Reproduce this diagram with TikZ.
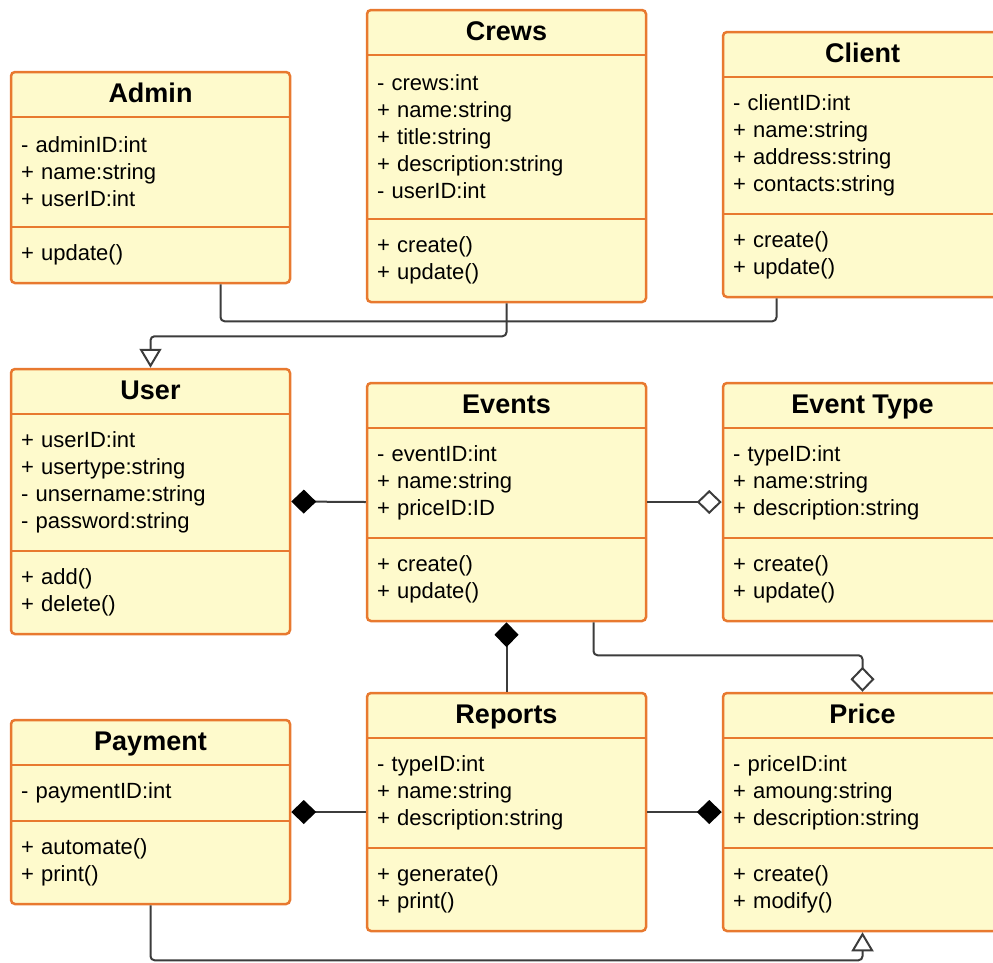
\documentclass[tikz,border=0pt]{standalone}
\usepackage{fontspec}
\setmainfont{Liberation Sans}
\usetikzlibrary{arrows.meta, positioning, fit, backgrounds}
\definecolor{UMLYellow}{HTML}{FEFACC}
\definecolor{UMLOrange}{HTML}{E8792F}
\definecolor{UMLLine}{HTML}{3C3C3C}
\tikzset{
    % Class name compartment
    classname/.style={
        rectangle,
        minimum width=279pt,
        minimum height=45pt,
        text height=20pt,
        text depth=5pt,
        inner sep=0pt,
        outer sep=0pt,
        align=center,
        font=\fontsize{27}{30}\selectfont\bfseries
    },
    % Attribute / operation compartment
    classpart/.style={
        rectangle,
        text width=259pt,
        inner xsep=10pt,
        inner ysep=0pt,
        outer sep=0pt,
        align=left,
        font=\fontsize{22}{27}\selectfont,
        append after command={(\tikzlastnode.north west) edge[divider] (\tikzlastnode.north east)}
    },
    % Line between compartments
    divider/.style={
        draw=UMLOrange,
        line width=2.5pt
    },
    % Whole class frame
    classframe/.style={
        rectangle,
        rounded corners=4pt,
        draw=UMLOrange,
        fill=UMLYellow,
        line width=2.5pt,
        inner sep=0pt
    },
    % Plain association line
    assoc/.style={
        draw=UMLLine,
        line width=2pt,
        rounded corners=4pt
    },
    % Generalisation
    inherit/.style={
        assoc,
        -{Triangle[open, fill=white, length=19pt, width=22pt]}
    },
    % Aggregation
    aggregate/.style={
        assoc,
        -{Diamond[open, fill=white, length=25pt, width=24pt]}
    },
    % Composition, diamond at end
    composeto/.style={
        assoc,
        -{Diamond[black, length=25pt, width=24pt]}
    },
    % Composition, diamond at start
    composefrom/.style={
        assoc,
        {Diamond[black, length=25pt, width=24pt]}-
    }
}

\begin{document}
\begin{tikzpicture}[x=1pt, y=-1pt, node distance=0pt]
    \useasboundingbox (0,0) rectangle (993,962);

    % Top row
    \node (admin-t) [classname, anchor=north west] at (11,72) {Admin};
    \node (admin-a) [classpart, below=of admin-t, minimum height=110pt] {- adminID:int\\+ name:string\\+ userID:int};
    \node (admin-m) [classpart, below=of admin-a, minimum height=56pt] {+ update()};

    \node (crews-t) [classname, anchor=north west] at (367,10) {Crews};
    \node (crews-a) [classpart, below=of crews-t, minimum height=164pt] {- crews:int\\+ name:string\\+ title:string\\+ description:string\\- userID:int};
    \node (crews-m) [classpart, below=of crews-a, minimum height=83pt] {+ create()\\+ update()};

    \node (client-t) [classname, anchor=north west] at (723,32) {Client};
    \node (client-a) [classpart, below=of client-t, minimum height=137pt] {- clientID:int\\+ name:string\\+ address:string\\+ contacts:string};
    \node (client-m) [classpart, below=of client-a, minimum height=83pt] {+ create()\\+ update()};

    % Middle row
    \node (user-t) [classname, anchor=north west] at (11,369) {User};
    \node (user-a) [classpart, below=of user-t, minimum height=137pt] {+ userID:int\\+ usertype:string\\- unsername:string\\- password:string};
    \node (user-m) [classpart, below=of user-a, minimum height=83pt] {+ add()\\+ delete()};

    \node (events-t) [classname, anchor=north west] at (367,383) {Events};
    \node (events-a) [classpart, below=of events-t, minimum height=110pt] {- eventID:int\\+ name:string\\+ priceID:ID};
    \node (events-m) [classpart, below=of events-a, minimum height=83pt] {+ create()\\+ update()};

    \node (etype-t) [classname, anchor=north west] at (723,383) {Event Type};
    \node (etype-a) [classpart, below=of etype-t, minimum height=110pt] {- typeID:int\\+ name:string\\+ description:string};
    \node (etype-m) [classpart, below=of etype-a, minimum height=83pt] {+ create()\\+ update()};

    % Bottom row
    \node (payment-t) [classname, anchor=north west] at (11,720) {Payment};
    \node (payment-a) [classpart, below=of payment-t, minimum height=56pt] {- paymentID:int};
    \node (payment-m) [classpart, below=of payment-a, minimum height=83pt] {+ automate()\\+ print()};

    \node (reports-t) [classname, anchor=north west] at (367,693) {Reports};
    \node (reports-a) [classpart, below=of reports-t, minimum height=110pt] {- typeID:int\\+ name:string\\+ description:string};
    \node (reports-m) [classpart, below=of reports-a, minimum height=83pt] {+ generate()\\+ print()};

    \node (price-t) [classname, anchor=north west] at (723,693) {Price};
    \node (price-a) [classpart, below=of price-t, minimum height=110pt] {- priceID:int\\+ amoung:string\\+ description:string};
    \node (price-m) [classpart, below=of price-a, minimum height=83pt] {+ create()\\+ modify()};

    % Class frames
    \begin{scope}[on background layer]
        \node (admin) [classframe, fit=(admin-t)(admin-m)] {};
        \node (crews) [classframe, fit=(crews-t)(crews-m)] {};
        \node (client) [classframe, fit=(client-t)(client-m)] {};
        \node (user) [classframe, fit=(user-t)(user-m)] {};
        \node (events) [classframe, fit=(events-t)(events-m)] {};
        \node (etype) [classframe, fit=(etype-t)(etype-m)] {};
        \node (payment) [classframe, fit=(payment-t)(payment-m)] {};
        \node (reports) [classframe, fit=(reports-t)(reports-m)] {};
        \node (price) [classframe, fit=(price-t)(price-m)] {};
    \end{scope}

    % Relations
    \draw [assoc] ([xshift=70pt]admin.south) -- ++(0,37) -| ([xshift=-86pt]client.south);
    \draw [inherit] (crews.south) -- ++(0,33) -| (user.north);
    \draw [composefrom] (user.east) -- (events.west);
    \draw [aggregate] (events.east) -- (etype.west);
    \draw [composefrom] (events.south) -- (reports.north);
    \draw [aggregate] ([xshift=87pt]events.south) -- ++(0,33) -| (price.north);
    \draw [composefrom] (payment.east) -- (reports.west);
    \draw [composeto] (reports.east) -- (price.west);
    \draw [inherit] (payment.south) -- ++(0,55) -| (price.south);
\end{tikzpicture}
\end{document}
